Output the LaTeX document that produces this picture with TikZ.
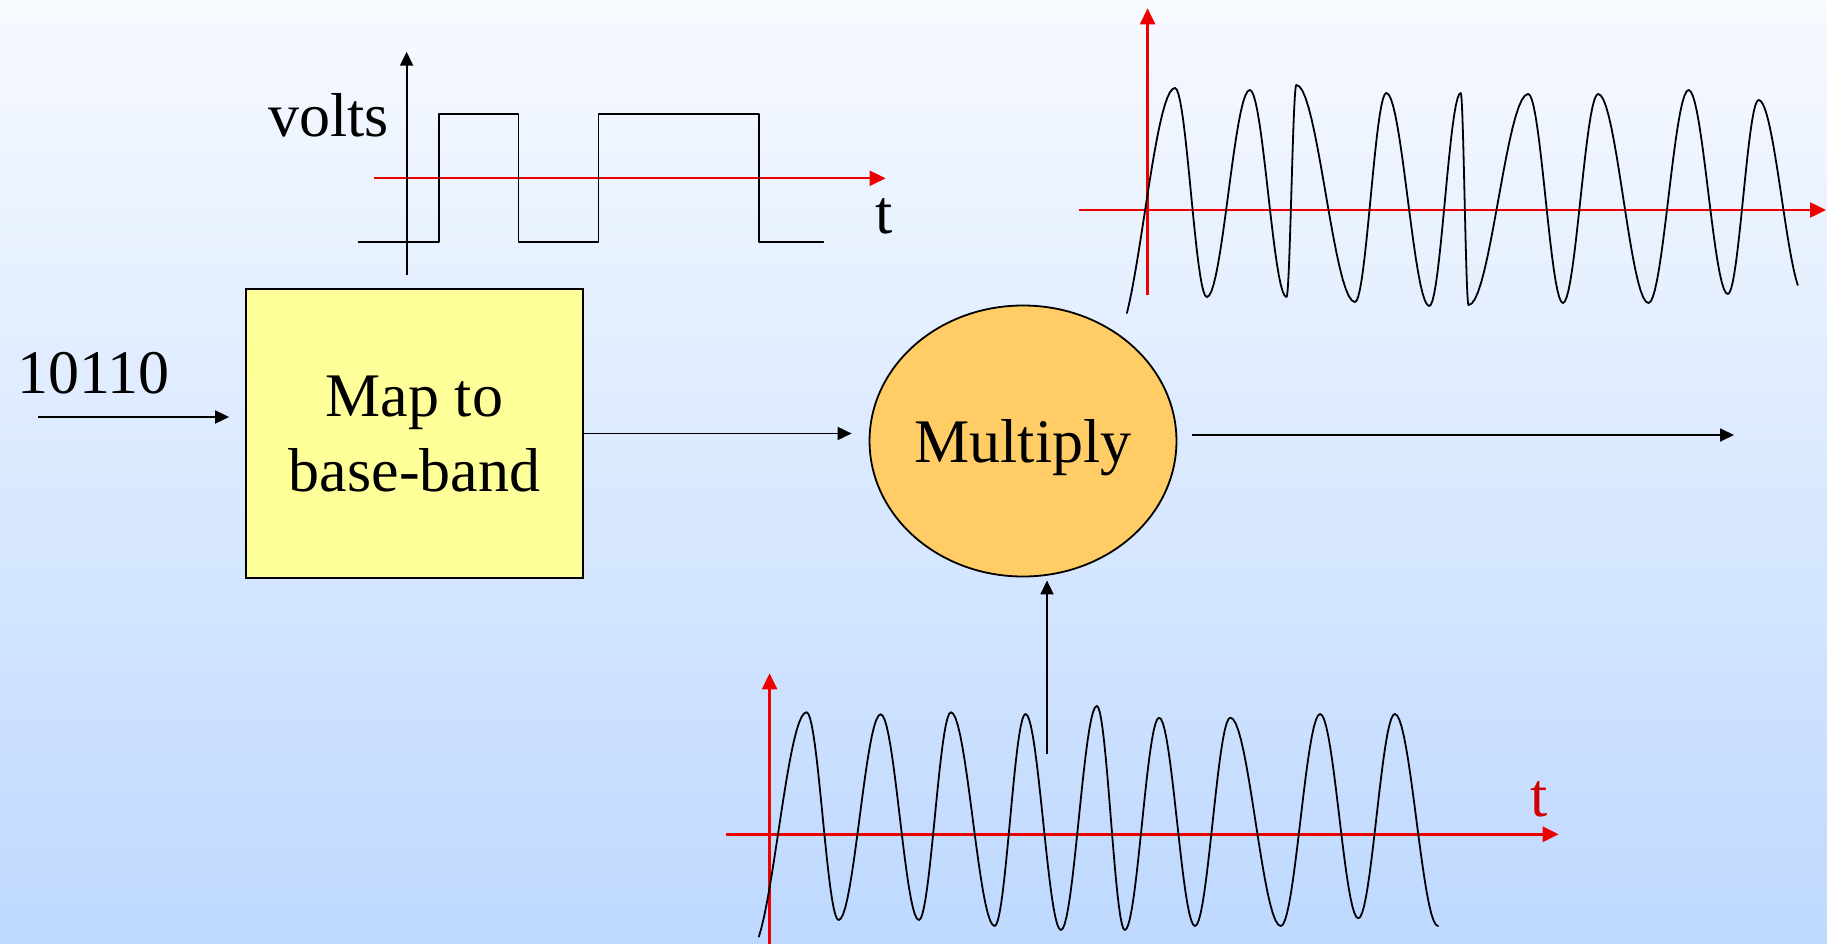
\documentclass[tikz,border=0pt]{standalone}
\usepackage{fontspec}
\setmainfont{Liberation Serif}
\usetikzlibrary{arrows.meta, positioning, shapes.geometric}

\definecolor{bgtop}{RGB}{247,250,255}
\definecolor{bgbot}{RGB}{190,216,255}
\definecolor{mapyellow}{RGB}{255,255,153}
\definecolor{muloran}{RGB}{255,204,102}
\definecolor{axred}{RGB}{238,0,0}
\definecolor{tred}{RGB}{210,0,0}

\begin{document}
\begin{tikzpicture}[
  x=1pt, y=-1pt,
  font=\fontsize{62}{75}\selectfont,
  mapbox/.style={draw, rectangle, fill=mapyellow, line width=1.8pt, align=center, minimum width=337pt, minimum height=289pt, inner sep=0pt},
  mulnode/.style={draw, ellipse, fill=muloran, line width=1.8pt, minimum width=304pt, minimum height=271pt, inner sep=0pt, text depth=0pt},
  arr/.style={-{Triangle[length=14pt, width=13pt]}, line width=1.8pt},
  axis/.style={-{Triangle[length=16pt, width=15pt]}, draw=axred, fill=axred, line width=2.4pt},
  wave/.style={line width=1.8pt, line cap=round, line join=round},
  lbl/.style={anchor=base west, inner sep=0pt}
]
\shade[top color=bgtop, bottom color=bgbot] (0,0) rectangle (1827,944);
\useasboundingbox (0,0) rectangle (1827,944);

% base-band signal
\draw[axis] (374,178.3) -- (885.6,178.3);
\draw[arr] (406.6,275) -- (406.6,51.7);
\draw[wave] (358.6,241.7) -- (438.6,241.7) -- (438.6,114.3) -- (518.5,114.3) -- (518.5,241.7)
  -- (598.5,241.7) -- (598.5,114.3) -- (759.3,114.3) -- (759.3,241.7) -- (823.3,241.7);
\node[lbl] (volts) at (268,136.7) {volts};
\node[lbl] (tbase) at (875,233.3) {t};

% blocks
\node[mapbox] (map) at (414.5,433.5) {Map to\\base-band};
\node[mulnode] (mult) at (1023,441) {Multiply};
\node[lbl] (bits) at (17,393) {10110};

\coordinate (in) at (38,417);
\coordinate (out) at (1734,435);
\coordinate (carr) at (1047,754);
\draw[arr, shorten >=16pt] (in) -- (in -| map.west);
\draw[arr, shorten >=17pt] (map.east) -- (map.east -| mult.west);
\draw[arr, shorten <=15pt] (mult.east |- out) -- (out);
\draw[arr, shorten >=3pt] (carr) -- (carr |- mult.south);

% modulated signal
\draw[axis] (1147.6,295) -- (1147.6,8.3);
\draw[axis] (1078.6,210) -- (1826,210);
\draw[wave] plot[domain=38.2:180, samples=20, variable=\s] ({1114+61*\s/180},{214+126*cos(\s)});
\foreach \xb/\yb [remember=\xb as \xa (initially 1175), remember=\yb as \ya (initially 88)] in
  {1206.8/297, 1249.8/90, 1286.5/297, 1296.3/85, 1355/302, 1386.3/93, 1429.3/306, 1460.7/93,
   1468.5/305, 1528.2/94, 1562.9/303, 1598.1/94, 1648.5/303, 1688.6/90, 1727.8/294, 1758.6/100}
  \draw[wave] plot[domain=0:180, samples=20, variable=\s] ({\xa+(\xb-\xa)*\s/180},{(\ya+\yb)/2+(\ya-\yb)/2*cos(\s)});
\draw[wave] plot[domain=0:152.6, samples=20, variable=\s] ({1758.6+46.1*\s/180},{198-98*cos(\s)});

% carrier
\draw[axis] (769.6,944) -- (769.6,673.3);
\draw[axis] (726.4,834.3) -- (1558.7,834.3);
\draw[wave] plot[domain=27.4:180, samples=20, variable=\s] ({750.3+56.3*\s/180},{831.15+118.85*cos(\s)});
\foreach \xb/\yb [remember=\xb as \xa (initially 806.6), remember=\yb as \ya (initially 712.3)] in
  {838.6/920, 880.7/714.3, 918.9/920, 950.9/712.3, 994.6/926, 1025.5/714, 1060.9/930, 1096.8/706,
   1124.8/930, 1159.1/717.7, 1195/926, 1230.3/717.7, 1280.8/926, 1320.1/714, 1358.3/918.3, 1394.8/714, 1438/926}
  \draw[wave] plot[domain=0:180, samples=20, variable=\s] ({\xa+(\xb-\xa)*\s/180},{(\ya+\yb)/2+(\ya-\yb)/2*cos(\s)});
\node[lbl, text=tred] (tcarr) at (1530,816.7) {t};
\end{tikzpicture}
\end{document}
